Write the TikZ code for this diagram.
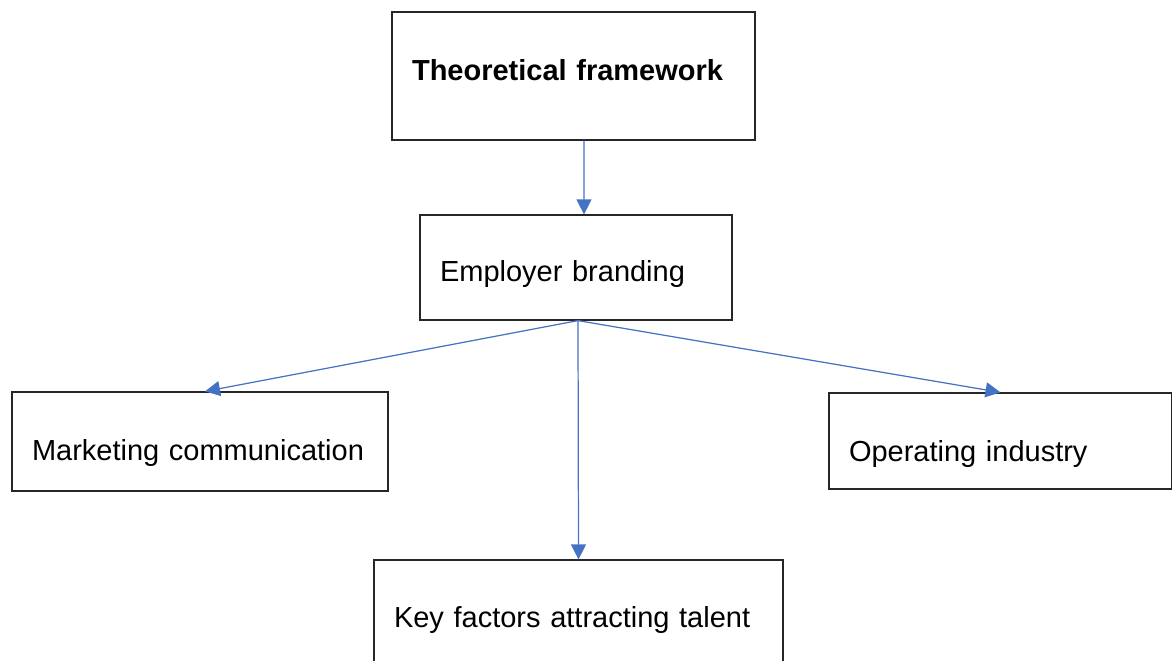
\documentclass[tikz,border=0pt]{standalone}
\usepackage{fontspec}
\setmainfont{Liberation Sans}
\usepackage{tikz}
\usetikzlibrary{calc}
\usetikzlibrary{arrows.meta}
\definecolor{LinkBlue}{RGB}{68,114,196}

\tikzset{
	frame/.style={draw=black!85, line width=0.7pt, rectangle, inner xsep=0.4cm, align=left,
		text depth=0pt, font=\fontsize{16.5}{20}\selectfont},
	link/.style={draw=LinkBlue, line width=0.7pt, -{Triangle[length=0.3cm, width=0.3cm]}}
}

\begin{document}
\begin{tikzpicture}[x=0.02cm, y=-0.02cm]
		\clip (0,0) rectangle (1172,661);
		\useasboundingbox (0,0) rectangle (1172,661);
		
		\node [frame, minimum width=7.26cm, minimum height=2.56cm, text width=6.46cm, text height=0.18cm] (theory) at (573.5,76) {\textbf{Theoretical framework}};
		\node [frame, minimum width=6.24cm, minimum height=2.1cm, text width=5.44cm, text height=0.58cm] (brand) at (576,267.5) {Employer branding};
		\node [frame, minimum width=7.52cm, minimum height=1.98cm, text width=6.72cm, text height=0.78cm] (market) at (200,441.5) {Marketing communication};
		\node [frame, minimum width=6.86cm, minimum height=1.92cm, text width=6.06cm, text height=0.82cm] (industry) at (1000.5,441) {Operating industry};
		\node [frame, minimum width=8.18cm, minimum height=2.4cm, text width=7.38cm, text height=0.3cm] (talent) at (578.5,620) {Key factors attracting talent};
		
		\coordinate (hub) at ([xshift=0.04cm]brand.south);
		
		\draw [link] ([xshift=0.21cm]theory.south) -- ([xshift=0.16cm]brand.north);
		\draw [link] (hub) -- ([xshift=0.1cm]market.north);
		\draw [link] (hub) -- (talent.north);
		\draw [link] (hub) -- (industry.north);
\end{tikzpicture}
\end{document}
